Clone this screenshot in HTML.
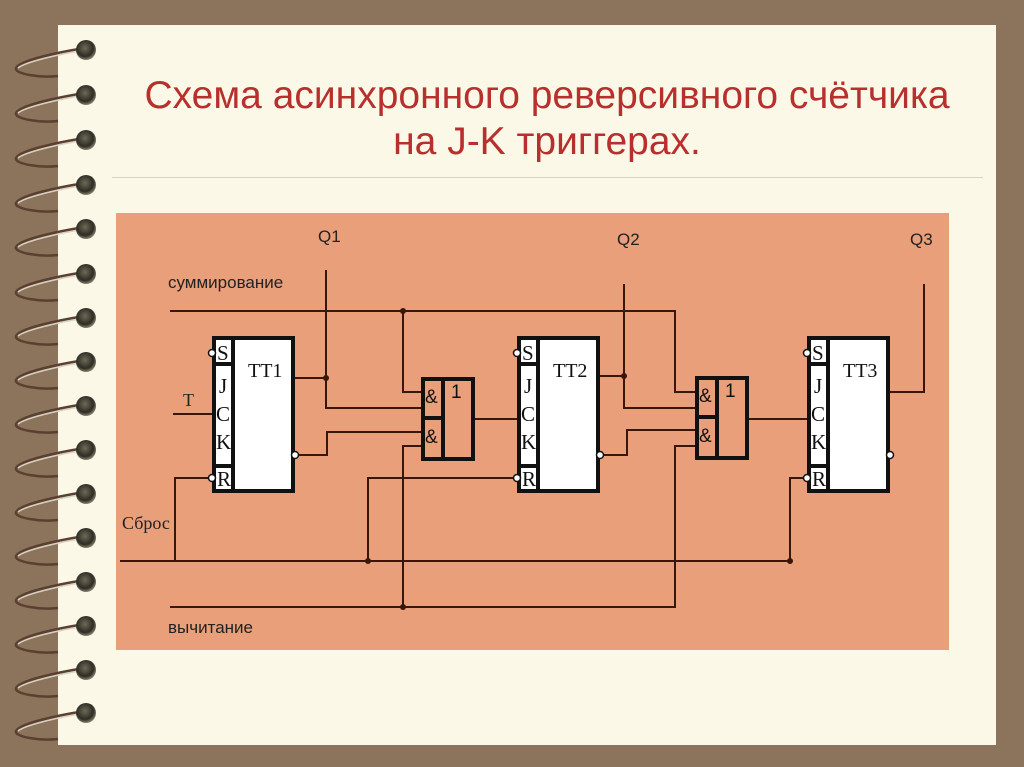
<!DOCTYPE html>
<html><head><meta charset="utf-8"><style>
html,body{margin:0;padding:0;width:1024px;height:767px;overflow:hidden;background:#8b735c;}
svg{display:block}
</style></head><body>
<svg width="1024" height="767" xmlns="http://www.w3.org/2000/svg">
<defs>
<radialGradient id="hole" cx="0.45" cy="0.4" r="0.6">
<stop offset="0" stop-color="#6e6a58"/><stop offset="0.7" stop-color="#2e2c24"/><stop offset="1" stop-color="#8a8470"/>
</radialGradient>
</defs>
<rect x="0" y="0" width="1024" height="767" fill="#8b735c"/>
<rect x="58" y="25" width="938" height="720" fill="#fcf8e8"/>
<g id="rings">
<g transform="translate(0,50)">
<path d="M85 -2 C60 2,20 10,16 18 C14 24,40 28,58 26" fill="none" stroke="#5a4030" stroke-width="2.5"/>
<path d="M85 0 C60 4,25 12,18 18" fill="none" stroke="#d8d0c0" stroke-width="1.5"/>
<circle cx="86" cy="0" r="10" fill="url(#hole)"/>
</g>
</g>
<use href="#rings" y="45"/><use href="#rings" y="90"/><use href="#rings" y="135"/>
<use href="#rings" y="179"/><use href="#rings" y="224"/><use href="#rings" y="268"/>
<use href="#rings" y="312"/><use href="#rings" y="356"/><use href="#rings" y="400"/>
<use href="#rings" y="444"/><use href="#rings" y="488"/><use href="#rings" y="532"/>
<use href="#rings" y="576"/><use href="#rings" y="620"/><use href="#rings" y="663"/>
<text x="547" y="108" font-family="Liberation Sans, sans-serif" font-size="39" fill="#b8302e" text-anchor="middle">Схема асинхронного реверсивного счётчика</text>
<text x="547" y="154" font-family="Liberation Sans, sans-serif" font-size="39" fill="#b8302e" text-anchor="middle">на J-K триггерах.</text>
<line x1="112" y1="177.5" x2="983" y2="177.5" stroke="#d8d4c4" stroke-width="1"/>
<rect x="116" y="213" width="833" height="437" fill="#e89f7a"/>
<g stroke="#3a1608" stroke-width="2" fill="none">
<polyline points="170,311 675,311 675,392 696,392"/>
<polyline points="120,561 790,561"/>
<polyline points="170,607 675,607 675,446 696,446"/>
<line x1="173" y1="414" x2="213" y2="414"/>
<polyline points="175,561 175,478 209,478"/>
<polyline points="294,378 326,378"/>
<polyline points="326,270 326,408 422,408"/>
<polyline points="298,455 327,455 327,432 422,432"/>
<polyline points="403,311 403,392 422,392"/>
<polyline points="403,607 403,446 422,446"/>
<line x1="473" y1="419" x2="518" y2="419"/>
<polyline points="368,561 368,478 514,478"/>
<polyline points="599,376 624,376"/>
<polyline points="624,284 624,408 696,408"/>
<polyline points="603,455 627,455 627,430 696,430"/>
<line x1="747" y1="419" x2="808" y2="419"/>
<polyline points="790,561 790,478 804,478"/>
<polyline points="889,392 924,392 924,284"/>
</g>
<g fill="#3a1608">
<circle cx="403" cy="311" r="3"/><circle cx="326" cy="378" r="3"/>
<circle cx="624" cy="376" r="3"/><circle cx="368" cy="561" r="3"/>
<circle cx="790" cy="561" r="3"/><circle cx="403" cy="607" r="3"/>
</g>
<g id="ff">
<rect x="214" y="338" width="79" height="153" fill="#fff" stroke="#111" stroke-width="4"/>
<line x1="233" y1="338" x2="233" y2="491" stroke="#111" stroke-width="4"/>
<line x1="214" y1="364" x2="233" y2="364" stroke="#111" stroke-width="4"/>
<line x1="214" y1="466" x2="233" y2="466" stroke="#111" stroke-width="4"/>
<g font-family="Liberation Serif, serif" font-size="21" fill="#111">
<text x="217" y="360">S</text><text x="219" y="393">J</text><text x="216" y="421">C</text><text x="216" y="449">K</text><text x="217" y="486">R</text>
</g>
<circle cx="212" cy="353" r="3.5" fill="#fff" stroke="#111" stroke-width="1.5"/>
<circle cx="212" cy="478" r="3.5" fill="#fff" stroke="#111" stroke-width="1.5"/>
<circle cx="295" cy="455" r="3.5" fill="#fff" stroke="#111" stroke-width="1.5"/>
</g>
<use href="#ff" x="305"/>
<use href="#ff" x="595"/>
<g font-family="Liberation Serif, serif" font-size="20" fill="#111">
<text x="248" y="377">TT1</text><text x="553" y="377">TT2</text><text x="843" y="377">TT3</text>
</g>
<g id="gate">
<rect x="423" y="379" width="50" height="80" fill="none" stroke="#111" stroke-width="4"/>
<line x1="443" y1="379" x2="443" y2="459" stroke="#111" stroke-width="4"/>
<line x1="423" y1="418" x2="443" y2="418" stroke="#111" stroke-width="4"/>
<g font-family="Liberation Sans, sans-serif" font-size="19" fill="#111">
<text x="425" y="403">&amp;</text><text x="425" y="443">&amp;</text><text x="451" y="398">1</text>
</g>
</g>
<use href="#gate" x="274" y="-1"/>
<g font-family="Liberation Sans, sans-serif" font-size="17" fill="#222">
<text x="168" y="288">суммирование</text>
<text x="168" y="633">вычитание</text>
<text x="318" y="242">Q1</text><text x="617" y="245">Q2</text><text x="910" y="245">Q3</text>
</g>
<g font-family="Liberation Serif, serif" font-size="18" fill="#222">
<text x="183" y="406">T</text>
<text x="122" y="529">Сброс</text>
</g>
</svg>
</body></html>
